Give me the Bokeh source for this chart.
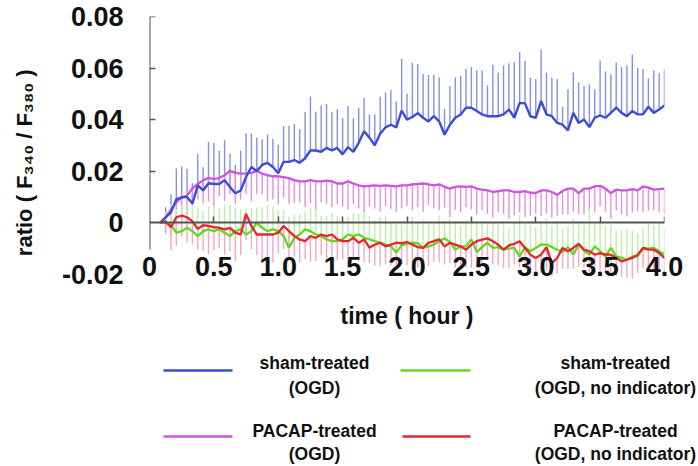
import numpy as np
from bokeh.plotting import figure
from bokeh.models import ColumnDataSource, Range1d, LinearAxis, FixedTicker
from bokeh.layouts import column, row
from bokeh.embed import file_html
from bokeh.resources import INLINE
from bokeh.core.properties import value

# ---------------- data ----------------
minutes = np.arange(5, 240.1, 2.5)          # sampling grid, every 2.5 min
time_h = minutes / 60.0

sham_ogd = [0.000, 0.002, 0.004, 0.009, 0.0098, 0.010, 0.0074, 0.0145, 0.0125, 0.0153,
            0.015, 0.015, 0.0165, 0.0138, 0.0114, 0.0125, 0.0177, 0.0216, 0.020, 0.0224,
            0.0232, 0.0216, 0.0192, 0.0236, 0.0236, 0.0243, 0.0232, 0.025, 0.028, 0.028,
            0.0275, 0.029, 0.028, 0.029, 0.0265, 0.0293, 0.0275, 0.031, 0.0355, 0.033,
            0.030, 0.0345, 0.037, 0.038, 0.037, 0.0435, 0.040, 0.041, 0.0425, 0.0407,
            0.0393, 0.0413, 0.0393, 0.0341, 0.038, 0.0407, 0.042, 0.0446, 0.0446, 0.0433,
            0.042, 0.0413, 0.0413, 0.0413, 0.042, 0.0439, 0.0407, 0.0465, 0.0463, 0.0413,
            0.0407, 0.0472, 0.042, 0.0413, 0.0387, 0.038, 0.0358, 0.0426, 0.0387, 0.040,
            0.0371, 0.0407, 0.0416, 0.0407, 0.0426, 0.0446, 0.0426, 0.0413, 0.0433, 0.042,
            0.042, 0.045, 0.0426, 0.0439, 0.0455]
sham_ogd_err = [0.000, 0.004, 0.007, 0.012, 0.012, 0.011, 0.008, 0.012, 0.009, 0.016,
                0.016, 0.013, 0.0155, 0.013, 0.011, 0.0155, 0.017, 0.013, 0.013, 0.010,
                0.011, 0.011, 0.011, 0.014, 0.014, 0.014, 0.013, 0.018, 0.021, 0.015,
                0.018, 0.017, 0.015, 0.015, 0.014, 0.016, 0.013, 0.0135, 0.013, 0.009,
                0.012, 0.0145, 0.0135, 0.0135, 0.010, 0.020, 0.010, 0.021, 0.019, 0.017,
                0.018, 0.016, 0.017, 0.010, 0.015, 0.0156, 0.015, 0.015, 0.0157, 0.0157,
                0.017, 0.012, 0.020, 0.017, 0.019, 0.018, 0.0215, 0.0197, 0.0166, 0.015,
                0.015, 0.020, 0.0163, 0.015, 0.017, 0.007, 0.016, 0.0157, 0.0157, 0.013,
                0.0166, 0.011, 0.0213, 0.018, 0.015, 0.0176, 0.0177, 0.0197, 0.022, 0.018,
                0.0176, 0.011, 0.0164, 0.014, 0.014]

pacap_ogd = [0.0, 0.002, 0.005, 0.008, 0.0098, 0.0105, 0.0133, 0.015, 0.0165, 0.0173,
             0.017, 0.0173, 0.0184, 0.0201, 0.0193, 0.019, 0.0191, 0.0193, 0.0201, 0.019,
             0.0184, 0.018, 0.018, 0.0177, 0.0173, 0.0165, 0.016, 0.016, 0.0165, 0.016,
             0.016, 0.0163, 0.016, 0.0152, 0.0152, 0.016, 0.0152, 0.0145, 0.0141, 0.0143,
             0.0145, 0.0143, 0.0145, 0.0143, 0.0141, 0.0145, 0.0145, 0.0149, 0.015, 0.0152,
             0.0149, 0.0145, 0.0149, 0.0139, 0.0132, 0.0139, 0.0141, 0.0139, 0.0141, 0.0132,
             0.0128, 0.0125, 0.0119, 0.0122, 0.0125, 0.0125, 0.0119, 0.0119, 0.0122, 0.0116,
             0.0115, 0.0125, 0.0125, 0.0119, 0.0108, 0.0123, 0.0132, 0.0132, 0.0115, 0.0132,
             0.0132, 0.0141, 0.0143, 0.0132, 0.0115, 0.0128, 0.0125, 0.0125, 0.013, 0.0125,
             0.0141, 0.0136, 0.0128, 0.013, 0.0132]
pacap_ogd_err = [0.0, 0.006, 0.010, 0.011, 0.008, 0.009, 0.007, 0.006, 0.009, 0.009,
                 0.011, 0.007, 0.010, 0.009, 0.012, 0.010, 0.008, 0.011, 0.009, 0.008,
                 0.010, 0.009, 0.011, 0.008, 0.010, 0.009, 0.008, 0.010, 0.009, 0.011,
                 0.008, 0.009, 0.010, 0.008, 0.009, 0.011, 0.008, 0.009, 0.010, 0.008,
                 0.009, 0.010, 0.008, 0.009, 0.010, 0.009, 0.008, 0.010, 0.009, 0.011,
                 0.008, 0.009, 0.010, 0.008, 0.011, 0.009, 0.010, 0.008, 0.009, 0.010,
                 0.008, 0.009, 0.010, 0.008, 0.009, 0.011, 0.009, 0.008, 0.010, 0.009,
                 0.008, 0.010, 0.009, 0.010, 0.008, 0.009, 0.010, 0.009, 0.008, 0.010,
                 0.009, 0.010, 0.008, 0.009, 0.010, 0.008, 0.009, 0.010, 0.009, 0.008,
                 0.010, 0.009, 0.008, 0.009, 0.010]

sham_noind = [0.0, 0.0, -0.0009, -0.0039, -0.0033, -0.002, -0.0033, -0.0052, -0.0033, -0.0026,
              -0.0033, -0.0026, -0.0039, -0.0052, -0.0033, -0.0026, -0.0046, -0.0033, 0.0, -0.002,
              -0.0033, -0.0026, -0.0033, -0.0052, -0.0097, -0.0059, -0.0046, -0.0026, -0.0033, -0.0046,
              -0.0052, -0.0065, -0.0072, -0.0072, -0.0065, -0.0046, -0.0052, -0.0046, -0.0059, -0.0065,
              -0.0072, -0.0078, -0.0085, -0.0092, -0.0116, -0.0088, -0.0082, -0.0078, -0.008, -0.0098,
              -0.0092, -0.0085, -0.0072, -0.0061, -0.0075, -0.0105, -0.0092, -0.0092, -0.0065, -0.0114,
              -0.0095, -0.0078, -0.0098, -0.0095, -0.0105, -0.0101, -0.0098, -0.0131, -0.0095, -0.0111,
              -0.0098, -0.0085, -0.0085, -0.0095, -0.0105, -0.0114, -0.0095, -0.0124, -0.0085, -0.0109,
              -0.0124, -0.0092, -0.0111, -0.0131, -0.0098, -0.0131, -0.0137, -0.0144, -0.0131, -0.0131,
              -0.0098, -0.0101, -0.0098, -0.0111, -0.0124]
sham_noind_err = [0.0, 0.004, 0.008, 0.009, 0.010, 0.007, 0.009, 0.011, 0.008, 0.009,
                  0.010, 0.008, 0.011, 0.012, 0.009, 0.008, 0.010, 0.009, 0.006, 0.008,
                  0.010, 0.009, 0.008, 0.010, 0.012, 0.009, 0.008, 0.007, 0.009, 0.010,
                  0.008, 0.009, 0.011, 0.010, 0.008, 0.007, 0.009, 0.008, 0.010, 0.009,
                  0.008, 0.010, 0.011, 0.009, 0.012, 0.008, 0.009, 0.010, 0.008, 0.011,
                  0.009, 0.008, 0.010, 0.007, 0.009, 0.011, 0.008, 0.010, 0.007, 0.012,
                  0.009, 0.008, 0.010, 0.009, 0.011, 0.008, 0.010, 0.016, 0.009, 0.010,
                  0.008, 0.009, 0.010, 0.008, 0.011, 0.009, 0.008, 0.014, 0.009, 0.010,
                  0.018, 0.009, 0.011, 0.012, 0.009, 0.010, 0.011, 0.012, 0.010, 0.009,
                  0.008, 0.010, 0.009, 0.011, 0.010]

pacap_noind = [0.0, 0.0005, -0.0018, 0.0021, 0.0027, 0.0021, 0.0005, -0.0024, -0.001, -0.0013,
               -0.0017, -0.002, -0.0026, -0.002, -0.0039, -0.0046, 0.0034, -0.0013, -0.0046, -0.0046,
               -0.0046, -0.0046, -0.0039, -0.0013, -0.0033, -0.0052, -0.0065, -0.0072, -0.0052, -0.0059,
               -0.0046, -0.0052, -0.0046, -0.0065, -0.0072, -0.0072, -0.0059, -0.0078, -0.0065, -0.0097,
               -0.0085, -0.0078, -0.0092, -0.0085, -0.0078, -0.0080, -0.0075, -0.0085, -0.0095, -0.0098,
               -0.0078, -0.0072, -0.0065, -0.0092, -0.0078, -0.0085, -0.0092, -0.0105, -0.0085, -0.0072,
               -0.0066, -0.0061, -0.0072, -0.0085, -0.0105, -0.0088, -0.0082, -0.0072, -0.0098, -0.0124,
               -0.0137, -0.0124, -0.0095, -0.0157, -0.0137, -0.0098, -0.0111, -0.0098, -0.0082, -0.0105,
               -0.0111, -0.0124, -0.0118, -0.0124, -0.0124, -0.0137, -0.015, -0.0144, -0.0137, -0.0124,
               -0.0098, -0.0105, -0.0105, -0.0118, -0.0137]
pacap_noind_err = [0.0, 0.005, 0.009, 0.011, 0.008, 0.010, 0.009, 0.008, 0.010, 0.011,
                   0.009, 0.008, 0.010, 0.009, 0.011, 0.008, 0.010, 0.009, 0.008, 0.010,
                   0.009, 0.011, 0.008, 0.009, 0.010, 0.008, 0.009, 0.007, 0.010, 0.009,
                   0.008, 0.010, 0.009, 0.008, 0.007, 0.009, 0.008, 0.007, 0.009, 0.006,
                   0.008, 0.009, 0.007, 0.008, 0.009, 0.008, 0.009, 0.007, 0.008, 0.007,
                   0.009, 0.008, 0.009, 0.007, 0.008, 0.009, 0.008, 0.007, 0.009, 0.010,
                   0.009, 0.008, 0.009, 0.008, 0.007, 0.009, 0.008, 0.010, 0.008, 0.007,
                   0.006, 0.007, 0.009, 0.005, 0.006, 0.008, 0.007, 0.008, 0.009, 0.007,
                   0.008, 0.007, 0.008, 0.007, 0.008, 0.007, 0.006, 0.007, 0.008, 0.007,
                   0.008, 0.007, 0.008, 0.007, 0.006]

xtick_values = [0, 0.5, 1.0, 1.5, 2.0, 2.5, 3.0, 3.5, 4.0]
xtick_labels = ["0", "0.5", "1.0", "1.5", "2.0", "2.5", "3.0", "3.5", "4.0"]
ytick_values = [-0.02, 0, 0.02, 0.04, 0.06, 0.08]
ytick_labels = ["-0.02", "0", "0.02", "0.04", "0.06", "0.08"]

y_title = "ratio ( F\u2083\u2084\u2080 / F\u2083\u2088\u2080 )"
x_title = "time ( hour )"
legend_line1 = ["sham-treated", "sham-treated", "PACAP-treated", "PACAP-treated"]
legend_line2 = ["(OGD)", "(OGD, no indicator)", "(OGD)", "(OGD, no indicator)"]

# ---------------- styling ----------------
FONT = "Liberation Sans"
TXT = "#111111"
AX = "#555555"
C_BLUE, C_BLUE_E = "#3a4cd8", "#8590e4"
C_VIO, C_VIO_E = "#cc55dd", "#e690dc"
C_GRN, C_GRN_E = "#63d822", "#bdf0a4"
C_RED, C_RED_E = "#e8242c", "#f4a6c6"

H_MAIN = 344

p = figure(width=698, height=H_MAIN, x_range=Range1d(0, 4.0), y_range=Range1d(-0.024, 0.08),
           output_backend="svg", toolbar_location=None,
           min_border_left=149, min_border_right=34, min_border_top=16,
           min_border_bottom=H_MAIN - 16 - 268, outline_line_color=None)
p.grid.visible = False

# error bars
def bars(mean, err, sign, color):
    m = np.array(mean)
    e = np.array(err)
    src = ColumnDataSource(dict(t=time_h, m=m, end=m + sign * e))
    p.segment(x0="t", y0="m", x1="t", y1="end", source=src, line_color=color, line_width=1.4)

bars(sham_ogd, sham_ogd_err, 1, C_BLUE_E)
bars(pacap_ogd, pacap_ogd_err, -1, C_VIO_E)
bars(sham_noind, sham_noind_err, 1, C_GRN_E)
bars(pacap_noind, pacap_noind_err, -1, C_RED_E)

p.line(time_h, pacap_ogd, line_color=C_VIO, line_width=2.3)
p.line(time_h, sham_ogd, line_color=C_BLUE, line_width=2.4)
p.line(time_h, sham_noind, line_color=C_GRN, line_width=2.3)
p.line(time_h, pacap_noind, line_color=C_RED, line_width=2.3)

# y axis: tick labels only
ya = p.yaxis[0]
ya.ticker = FixedTicker(ticks=ytick_values, minor_ticks=[])
ya.major_label_overrides = dict(zip(ytick_values, ytick_labels))
ya.axis_line_color = None
ya.major_tick_line_color = None
ya.minor_tick_line_color = None
ya.major_tick_out = 0
ya.major_tick_in = 0
ya.major_label_standoff = 26
ya.major_label_text_font = FONT
ya.major_label_text_font_style = "bold"
ya.major_label_text_font_size = "27px"
ya.major_label_text_color = TXT

# x axis: tick labels + title only
xa = p.xaxis[0]
xa.ticker = FixedTicker(ticks=xtick_values, minor_ticks=[])
xa.major_label_overrides = dict(zip(xtick_values, xtick_labels))
xa.axis_line_color = None
xa.major_tick_line_color = None
xa.minor_tick_line_color = None
xa.major_tick_out = 0
xa.major_tick_in = 0
xa.major_label_standoff = -28
xa.major_label_text_font = FONT
xa.major_label_text_font_style = "bold"
xa.major_label_text_font_size = "27px"
xa.major_label_text_color = TXT
xa.axis_label = x_title
xa.axis_label_text_font = FONT
xa.axis_label_text_font_style = "bold"
xa.axis_label_text_font_size = "23px"
xa.axis_label_text_color = TXT
xa.axis_label_standoff = 24

# axis lines crossing at zero; their inward tick marks are drawn as (label-less) minor ticks
yb = LinearAxis(fixed_location=0, bounds=(-0.0105, 0.08),
                ticker=FixedTicker(ticks=[], minor_ticks=ytick_values[2:]),
                major_tick_in=0, major_tick_out=0, major_tick_line_color=None,
                minor_tick_in=6, minor_tick_out=0, minor_tick_line_color=AX, minor_tick_line_width=1.5,
                axis_line_color=AX, axis_line_width=2, major_label_standoff=0)
p.add_layout(yb, "left")
xb = LinearAxis(fixed_location=0,
                ticker=FixedTicker(ticks=[], minor_ticks=xtick_values[1:]),
                major_tick_in=0, major_tick_out=0, major_tick_line_color=None,
                minor_tick_in=6, minor_tick_out=0, minor_tick_line_color=AX, minor_tick_line_width=1.5,
                axis_line_color=AX, axis_line_width=2, major_label_standoff=0)
p.add_layout(xb, "below")

# y title carried by an outer, otherwise invisible axis
# (trailing no-break spaces shift the centred text a little lower, as in the original)
yc = LinearAxis(ticker=FixedTicker(ticks=[], minor_ticks=[]),
                axis_line_color=None, major_tick_line_color=None, minor_tick_line_color=None,
                major_tick_in=0, major_tick_out=0, minor_tick_out=0, major_label_standoff=0,
                axis_label=y_title + "\u00a0" * 4, axis_label_standoff=22,
                axis_label_text_font=FONT, axis_label_text_font_style="bold",
                axis_label_text_font_size="22px", axis_label_text_color=TXT)
p.add_layout(yc, "left")

# ---------------- legend panel ----------------
lh = 466 - H_MAIN
p2 = figure(width=698, height=lh, x_range=Range1d(0, 698), y_range=Range1d(lh, 0),
            output_backend="svg", toolbar_location=None, min_border=0,
            outline_line_color=None, x_axis_type=None, y_axis_type=None)
p2.grid.visible = False
leg_colors = [C_BLUE, C_GRN, C_VIO, C_RED]
line_x = [(163, 232), (400, 470), (163, 232), (402, 470)]
line_y = [370 - H_MAIN, 370 - H_MAIN, 436 - H_MAIN, 436 - H_MAIN]
text_cx = [314, 615, 314, 615]
text_y1 = [362 - H_MAIN, 362 - H_MAIN, 430 - H_MAIN, 430 - H_MAIN]
text_y2 = [387 - H_MAIN, 387 - H_MAIN, 453 - H_MAIN, 453 - H_MAIN]
for i in range(4):
    p2.line(list(line_x[i]), [line_y[i], line_y[i]], line_color=leg_colors[i], line_width=2.5)
p2.text(x=text_cx, y=text_y1, text=legend_line1, text_align="center", text_baseline="middle",
        text_font=value(FONT), text_font_style="bold", text_font_size="17.5px", text_color=TXT)
p2.text(x=text_cx, y=text_y2, text=legend_line2, text_align="center", text_baseline="middle",
        text_font=value(FONT), text_font_style="bold", text_font_size="17.5px", text_color=TXT)

# wrap each plot in its own row so the column does not align their frames
layout = column(row(p, spacing=0), row(p2, spacing=0), spacing=0)
open("out.html", "w").write(file_html(layout, INLINE))
